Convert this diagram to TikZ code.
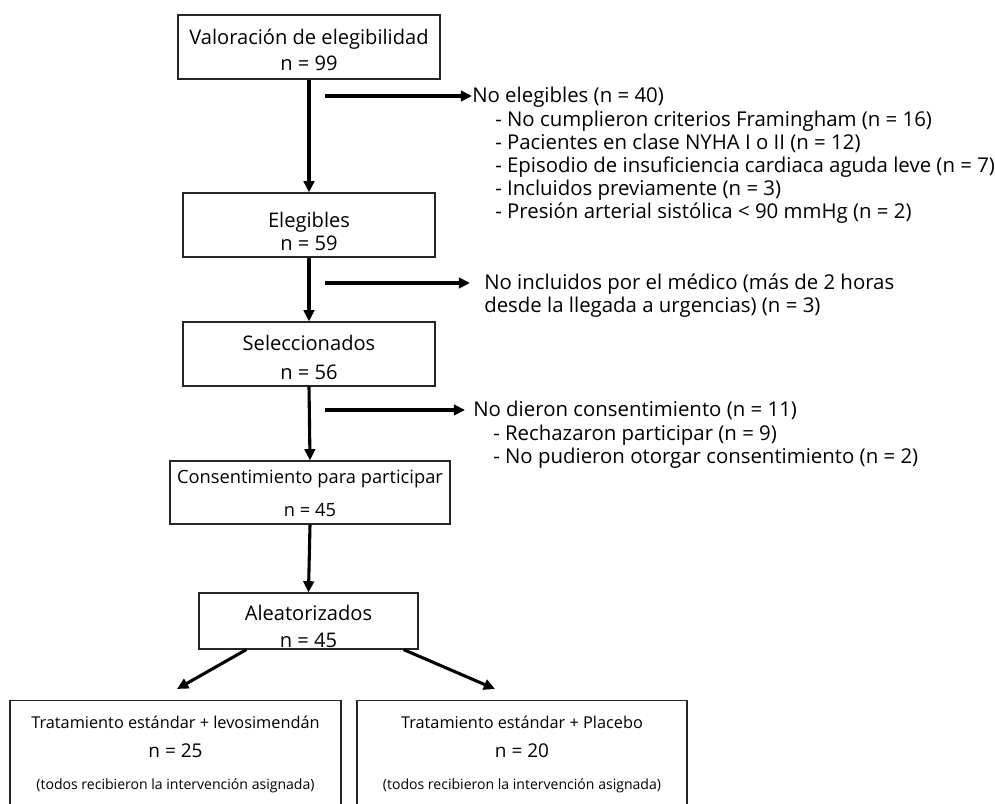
\documentclass[tikz,border=0pt]{standalone}
\usepackage{fontspec}
\setmainfont{Open Sans}
\usepackage{tikz}
\usetikzlibrary{positioning, arrows.meta}
\newcommand{\nbig}{\fontsize{13.5}{16}\selectfont}
\newcommand{\ntit}{\fontsize{11.6}{14}\selectfont}
\tikzset{
  caja/.style   = {rectangle, draw=black!85, line width=0.8pt, fill=white, align=center, inner sep=0pt, font=\fontsize{14.3}{17}\selectfont},
  cajab/.style  = {rectangle, draw=black!85, line width=0.8pt, fill=white, align=center, inner sep=0pt, anchor=north, font=\fontsize{10}{12}\selectfont},
  flecha/.style = {line width=2.2pt, -{Triangle[length=8pt, width=7.5pt]}},
  lado/.style   = {anchor=west, inner sep=0pt, text height=0.9em, text depth=0em, font=\fontsize{14.5}{17}\selectfont}
}

\begin{document}
\begin{tikzpicture}

  \useasboundingbox (0,0) rectangle (24.875,20.1);

  % ---------- cajas centrales ----------
  \node[caja, minimum width=6.55cm, minimum height=1.6cm] (val) at (7.725,18.925)
       {\rule{0pt}{15.2pt}Valoración de elegibilidad\\[1.5pt] n = 99};
  \node[caja, minimum width=6.3cm, minimum height=1.6cm] (ele) at (7.725,14.475)
       {\rule{0pt}{20pt}Elegibles\\[-0.6pt] n = 59};
  \node[caja, minimum width=6.3cm, minimum height=1.6cm] (sel) at (7.725,11.25)
       {\rule{0pt}{15.9pt}Seleccionados\\[3.6pt] n = 56};
  \node[caja, minimum width=7.0cm, minimum height=1.575cm, font=\fontsize{13}{16}\selectfont] (con) at (7.75,7.7875)
       {\rule{0pt}{11.3pt}Consentimiento para participar\\[7.5pt] n = 45};
  \node[caja, minimum width=5.475cm, minimum height=1.4cm] (ale) at (7.7125,4.575)
       {\rule{0pt}{18.7pt}Aleatorizados\\[2.2pt] n = 45};

  \draw[flecha] (val.south) -- (ele.north);
  \draw[flecha] (ele.south) -- (sel.north);
  \draw[flecha] (sel.south) -- (con.north);
  \draw[flecha] (con.south) -- (ale.north);

  % ---------- no elegibles ----------
  \coordinate (c1) at (8.125,17.7);
  \node[lado] (nel) at (11.8,17.7) {No elegibles (n = 40)};
  \draw[flecha] (c1) -- (nel.west);
  \node[lado] (nel1) at (12.375,17.1)   {- No cumplieron criterios Framingham (n = 16)};
  \node[lado] (nel2) at (12.375,16.525) {- Pacientes en clase NYHA I o II (n = 12)};
  \node[lado] (nel3) at (12.375,15.95)  {- Episodio de insuficiencia cardiaca aguda leve (n = 7)};
  \node[lado] (nel4) at (12.375,15.375) {- Incluidos previamente (n = 3)};
  \node[lado] (nel5) at (12.375,14.8)   {- Presión arterial sistólica < 90 mmHg (n = 2)};

  % ---------- no incluidos ----------
  \coordinate (c2) at (8.125,13.025);
  \node[lado] (ninc1) at (12.1,13.025) {No incluidos por el médico (más de 2 horas};
  \node[lado] (ninc2) at (12.1,12.45)  {desde la llegada a urgencias) (n = 3)};
  \draw[flecha] (c2) -- ([xshift=-0.35cm]ninc1.west);

  % ---------- sin consentimiento ----------
  \coordinate (c3) at (8.125,9.85);
  \node[lado] (ncon) at (11.825,9.85) {No dieron consentimiento (n = 11)};
  \draw[flecha] (c3) -- ([xshift=-0.2cm]ncon.west);
  \node[lado] (ncon1) at (12.325,9.25)  {- Rechazaron participar (n = 9)};
  \node[lado] (ncon2) at (12.325,8.675) {- No pudieron otorgar consentimiento (n = 2)};

  % ---------- grupos ----------
  \node[cajab, minimum width=8.275cm, text depth=1.2cm] (lev) at (4.3875,2.6)
       {\rule{0pt}{20pt}{\ntit Tratamiento estándar + levosimendán}\\[8.5pt] {\nbig n = 25}\\[10.5pt] (todos recibieron la intervención asignada)};
  \node[cajab, minimum width=8.25cm, text depth=1.2cm] (pla) at (13.05,2.6)
       {\rule{0pt}{20pt}{\ntit Tratamiento estándar + Placebo}\\[8.5pt] {\nbig n = 20}\\[10.5pt] (todos recibieron la intervención asignada)};

  \coordinate (a6) at (4.425,2.875);
  \coordinate (a7) at (12.375,2.875);
  \draw[flecha] ([xshift=1.2cm]ale.south west) -- (a6);
  \draw[flecha] ([xshift=-0.375cm]ale.south east) -- (a7);

\end{tikzpicture}
\end{document}
